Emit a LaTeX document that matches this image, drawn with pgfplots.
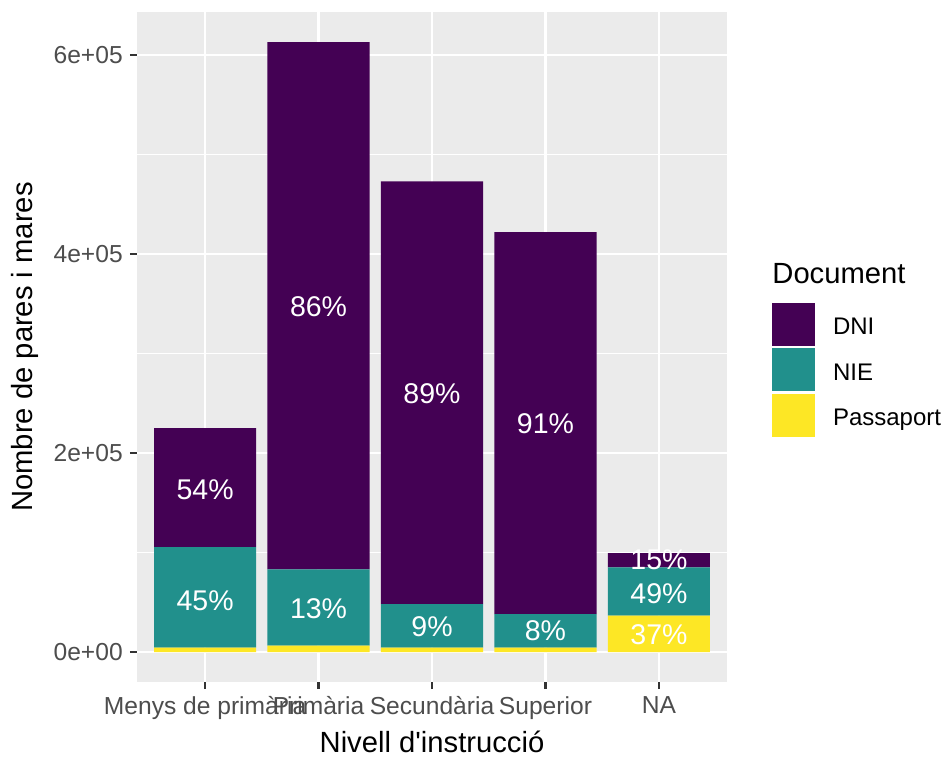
\documentclass[border=0pt]{standalone}
\usepackage{fontspec}
\setmainfont{Liberation Sans}[Ligatures=TeXOff]
\usepackage{pgfplots}
\usepackage{pgfplotstable}
\pgfplotsset{compat=1.18}
\definecolor{dni}{HTML}{440154}
\definecolor{nie}{HTML}{21908C}
\definecolor{pas}{HTML}{FDE725}
\definecolor{panel}{HTML}{EBEBEB}
\definecolor{ticktext}{HTML}{4D4D4D}
\definecolor{tickline}{HTML}{333333}

\pgfplotstableread{
x dni nie pas
1 119500 101000 4500
2 530000 76500 6500
3 425000 43500 4500
4 384000 33500 4500
5 14500 48500 36500
}\bars

\pgfplotstableread{
x y lab
1 163000 54
1 52000 45
2 347000 86
2 44000 13
3 259500 89
3 25000 9
4 229000 91
4 21250 8
5 92250 15
5 58500 49
5 17000 37
}\labs

\pgfplotsset{common/.style={
  scale only axis, width=295pt, height=335pt,
  at={(68.5pt,37pt)}, anchor=south west,
  xmin=0.4, xmax=5.6, ymin=-30151, ymax=643216,
}}

\begin{document}
\begin{tikzpicture}[x=1pt,y=1pt]
\path[use as bounding box] (0,0) rectangle (472.5,378);
\begin{axis}[common,
  clip=false,
  ybar stacked, bar width=0.9, bar shift=0pt,
  axis background/.style={fill=panel},
  axis line style={draw=none},
  xtick={1,2,3,4,5},
  xticklabels={Menys de primària,Primària,Secundària,Superior,NA},
  ytick={0,200000,400000,600000},
  yticklabels={0e+00,2e+05,4e+05,6e+05},
  minor ytick={100000,300000,500000},
  scaled y ticks=false,
  grid=both,
  major grid style={draw=white, line width=1.2pt},
  minor grid style={draw=white, line width=0.6pt},
  tick pos=left, tick align=outside,
  major tick length=3.6pt, minor tick length=0pt,
  major tick style={draw=tickline, line width=1.1pt},
  ticklabel style={font=\fontsize{12.3}{14}\selectfont, text=ticktext},
  xlabel={Nivell d'instrucció},
  ylabel={Nombre de pares i mares},
  label style={font=\fontsize{14.6}{17}\selectfont, text=black},
  xlabel style={at={(axis description cs:0.5,-0.1045)}, anchor=base},
  ylabel style={at={(axis description cs:-0.1898,0.5)}, anchor=center},
  reverse legend,
  legend cell align=left,
  legend image code/.code={\fill[#1] (0pt,-9pt) rectangle (21.5pt,12.5pt);},
  legend style={at={(axis description cs:1.0763,0.5657)}, anchor=north west,
    draw=none, fill=none, inner sep=0pt, outer sep=0pt,
    font=\fontsize{12}{14}\selectfont, row sep=1.2pt, column sep=9pt,
    nodes={inner sep=0pt, text=black}},
]
\addplot[fill=pas, draw=none] table[x=x, y=pas] {\bars};
\addlegendentry{Passaport}
\addplot[fill=nie, draw=none] table[x=x, y=nie] {\bars};
\addlegendentry{NIE}
\addplot[fill=dni, draw=none] table[x=x, y=dni] {\bars};
\addlegendentry{DNI}
\node[anchor=base west, inner sep=0pt, font=\fontsize{14.6}{17}\selectfont] at (axis description cs:1.0763,0.5955) {Document};
\end{axis}
\begin{axis}[common, hide axis]
\addplot[only marks, mark=none, point meta=explicit symbolic,
  nodes near coords={\pgfplotspointmeta\%},
  every node near coord/.append style={anchor=center, text=white, font=\fontsize{14.25}{16}\selectfont}]
  table[x=x, y=y, meta=lab] {\labs};
\end{axis}
\end{tikzpicture}
\end{document}
